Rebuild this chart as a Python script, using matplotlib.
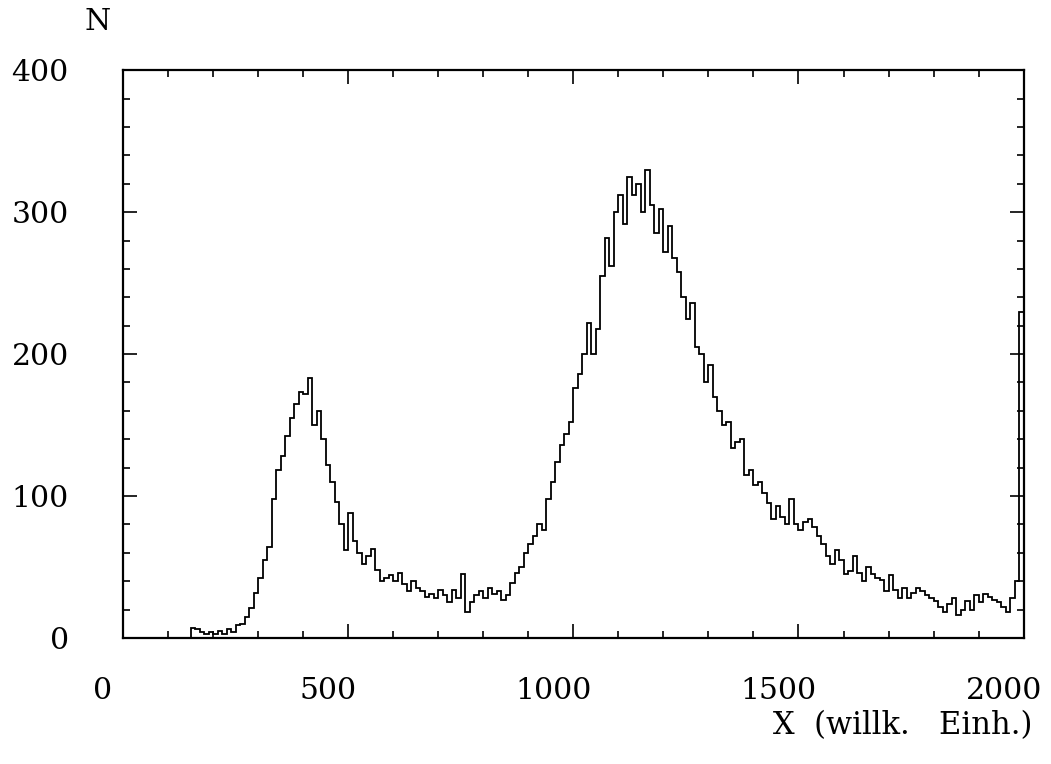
import numpy as np
import matplotlib
matplotlib.use("Agg")
import matplotlib.pyplot as plt
import matplotlib.transforms as mtransforms
from matplotlib.ticker import MultipleLocator

plt.rcParams['font.family'] = ['DejaVu Serif']

# histogram: bins of width 10 starting at x = 150
x_start = 150
bin_width = 10
counts = [
    7, 6, 4, 3, 4, 3, 5, 3, 6, 4,            # 150-240
    9, 10, 15, 21, 32, 42, 55, 64, 98, 118,  # 250-340
    128, 142, 155, 165, 173, 172, 183, 150, 160, 140,  # 350-440
    122, 110, 96, 80, 62, 88, 68, 60, 52, 58,  # 450-540
    63, 48, 40, 42, 44, 40, 46, 38, 33, 40,  # 550-640
    35, 33, 29, 31, 28, 34, 30, 25, 34, 28,  # 650-740
    45, 18, 25, 30, 33, 28, 35, 31, 33, 27,  # 750-840
    30, 39, 46, 50, 60, 66, 72, 80, 76, 98,  # 850-940
    110, 124, 136, 144, 152, 176, 186, 200, 222, 200,  # 950-1040
    218, 255, 282, 262, 300, 312, 292, 325, 312, 320,  # 1050-1140
    300, 330, 305, 285, 302, 272, 290, 268, 258, 240,  # 1150-1240
    225, 236, 205, 200, 180, 192, 170, 160, 150, 152,  # 1250-1340
    134, 138, 140, 115, 118, 108, 110, 102, 95, 84,  # 1350-1440
    93, 85, 80, 98, 80, 76, 82, 84, 78, 72,  # 1450-1540
    66, 58, 52, 62, 55, 45, 47, 58, 46, 40,  # 1550-1640
    50, 45, 42, 41, 33, 44, 34, 28, 35, 28,  # 1650-1740
    32, 35, 33, 30, 28, 26, 22, 18, 24, 28,  # 1750-1840
    16, 20, 26, 20, 30, 25, 31, 29, 27, 25,  # 1850-1940
    22, 18, 28, 40, 230,                     # 1950-1990
]

x_ticks = [0, 500, 1000, 1500, 2000]
y_ticks = [0, 100, 200, 300, 400]

edges = x_start + bin_width * np.arange(len(counts) + 1)

fig = plt.figure(figsize=(10.51, 7.64), dpi=100)
ax = fig.add_axes([0.117, 0.165, 0.857, 0.743])

ax.stairs(counts, edges, color='black', linewidth=1.3)

ax.set_xlim(0, 2000)
ax.set_ylim(0, 400)
ax.set_xticks(x_ticks)
ax.set_yticks(y_ticks)
ax.xaxis.set_minor_locator(MultipleLocator(100))
ax.yaxis.set_minor_locator(MultipleLocator(20))
ax.tick_params(which='both', direction='in', top=True, right=True, width=1.2)
ax.tick_params(which='major', length=10, labelsize=21.5)
ax.tick_params(axis='x', which='major', pad=28)
ax.tick_params(axis='y', which='major', pad=39)
ax.tick_params(which='minor', length=5)
for s in ax.spines.values():
    s.set_linewidth(1.6)

# x tick labels sit a bit left of their ticks in the original
shift = mtransforms.ScaledTranslation(-0.2, 0, fig.dpi_scale_trans)
for lab in ax.get_xticklabels():
    lab.set_transform(lab.get_transform() + shift)

fig.text(98 / 1051, 1 - 22 / 764, 'N', fontsize=21.5, ha='center', va='center')
fig.text(1032 / 1051, 1 - 726 / 764, 'X  (willk.   Einh.)', fontsize=22,
         ha='right', va='center')

fig.savefig('out.png', dpi=100)
